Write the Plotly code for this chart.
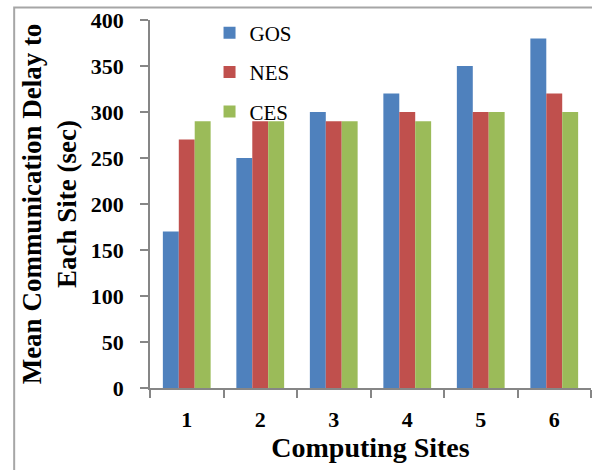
import plotly.graph_objects as go

sites = ["1", "2", "3", "4", "5", "6"]
gos = [170, 250, 300, 320, 350, 380]
nes = [270, 290, 290, 300, 300, 320]
ces = [290, 290, 290, 290, 300, 300]
series_names = ["GOS", "NES", "CES"]
series_colors = ["#4F81BD", "#C0504D", "#9BBB59"]
y_ticks = [0, 50, 100, 150, 200, 250, 300, 350, 400]

FONT = "Liberation Serif"

fig = go.Figure()
for name, vals, col in zip(series_names, [gos, nes, ces], series_colors):
    fig.add_trace(go.Bar(x=sites, y=vals, name=name, marker_color=col,
                         marker_line_width=0, legendgroup=name))

axis_col = "#868686"
fig.update_layout(
    width=592, height=470,
    margin=dict(l=150, r=1, t=20, b=82),
    paper_bgcolor="white", plot_bgcolor="white",
    barmode="group", bargap=0.35, bargroupgap=0,
    font=dict(family=FONT, color="black"),
    showlegend=True,
    legend=dict(x=0.135, y=1.02, xanchor="left", yanchor="top",
                font=dict(family=FONT, size=21, color="black"),
                bgcolor="rgba(0,0,0,0)", traceorder="grouped",
                tracegroupgap=9, itemsizing="constant"),
    xaxis=dict(
        showline=True, linecolor=axis_col, linewidth=1.5,
        ticks="outside", tickson="boundaries", ticklen=8, tickcolor=axis_col,
        tickwidth=1.5, showgrid=False,
        tickfont=dict(family=FONT, size=22, weight="bold"),
        ticklabelstandoff=11,
        title=dict(text="Computing Sites", standoff=2,
                   font=dict(family=FONT, size=28, weight="bold")),
    ),
    yaxis=dict(
        range=[0, 400], tickvals=y_ticks, showline=True, linecolor=axis_col,
        linewidth=1.5, ticks="outside", ticklen=8, tickcolor=axis_col,
        tickwidth=1.5, showgrid=False, zeroline=False,
        tickfont=dict(family=FONT, size=22, weight="bold"),
        ticklabelstandoff=12,
        title=dict(text="Mean Communication Delay to<br>Each Site (sec)", standoff=6,
                   font=dict(family=FONT, size=27, weight="bold")),
    ),
    shapes=[dict(type="rect", xref="paper", yref="paper",
                 x0=-0.308, x1=1.2, y0=-0.5, y1=1.034,
                 line=dict(color="#A6A6A6", width=2), layer="below")],
)

fig.write_html("out.html")
